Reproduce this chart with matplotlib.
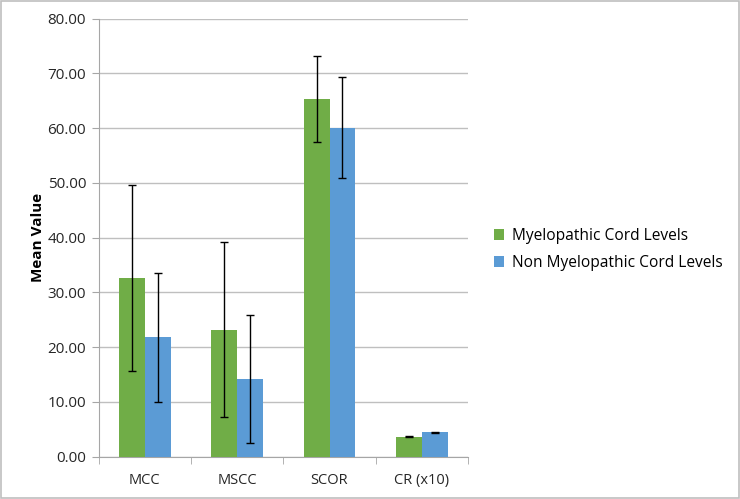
import numpy as np
import matplotlib.pyplot as plt

categories = ["MCC", "MSCC", "SCOR", "CR (x10)"]
myelo = [32.6, 23.2, 65.3, 3.65]
myelo_err = [16.95, 16.0, 7.8, 0.1]
non_myelo = [21.8, 14.2, 60.1, 4.45]
non_myelo_err = [11.8, 11.7, 9.2, 0.1]
y_ticks = [0, 10, 20, 30, 40, 50, 60, 70, 80]

green = "#70AD47"
blue = "#5B9BD5"

plt.rcParams["font.family"] = ["Open Sans", "DejaVu Sans"]

fig = plt.figure(figsize=(7.4, 4.99), dpi=100)
ax = fig.add_axes([0.1334, 0.0848, 0.4990, 0.8777])

x = np.arange(len(categories))
w = 0.28
ekw = dict(ecolor="black", elinewidth=1, capsize=3, capthick=1)
ax.bar(x - w / 2, myelo, w, color=green, yerr=myelo_err, error_kw=ekw,
       label="Myelopathic Cord Levels", zorder=3)
ax.bar(x + w / 2, non_myelo, w, color=blue, yerr=non_myelo_err, error_kw=ekw,
       label="Non Myelopathic Cord Levels", zorder=3)

ax.set_xlim(-0.5, len(categories) - 0.5)
ax.set_ylim(0, 80)
ax.set_yticks(y_ticks)
ax.set_yticklabels([f"{v:.2f}" for v in y_ticks], fontsize=11, color="#262626")
ax.set_xticks(x)
ax.set_xticklabels(categories, fontsize=10.5, color="#262626")
ax.set_xticks(np.arange(len(categories) + 1) - 0.5, minor=True)
ax.tick_params(axis="x", which="major", length=0, pad=12)
ax.tick_params(axis="x", which="minor", length=5, color="#A6A6A6")
ax.tick_params(axis="y", length=5, color="#A6A6A6", pad=4)

ax.grid(axis="y", color="#BFBFBF", linewidth=1, zorder=0)
for side in ["top", "right"]:
    ax.spines[side].set_visible(False)
ax.spines["left"].set_color("#A6A6A6")
ax.spines["bottom"].set_color("#A6A6A6")

ax.set_ylabel("Mean Value", fontsize=11, fontweight="bold", labelpad=2)

ax.legend(loc="center left", bbox_to_anchor=(0.648, 0.5), bbox_transform=fig.transFigure,
          frameon=False, fontsize=11.2, handlelength=0.7, handleheight=0.7,
          handletextpad=0.5, labelspacing=0.75)

fig.patches.append(plt.Rectangle((0.002, 0.002), 0.996, 0.996, transform=fig.transFigure,
                                 fill=False, edgecolor="#BFBFBF", linewidth=1.2))

fig.savefig("out.png", dpi=100)
